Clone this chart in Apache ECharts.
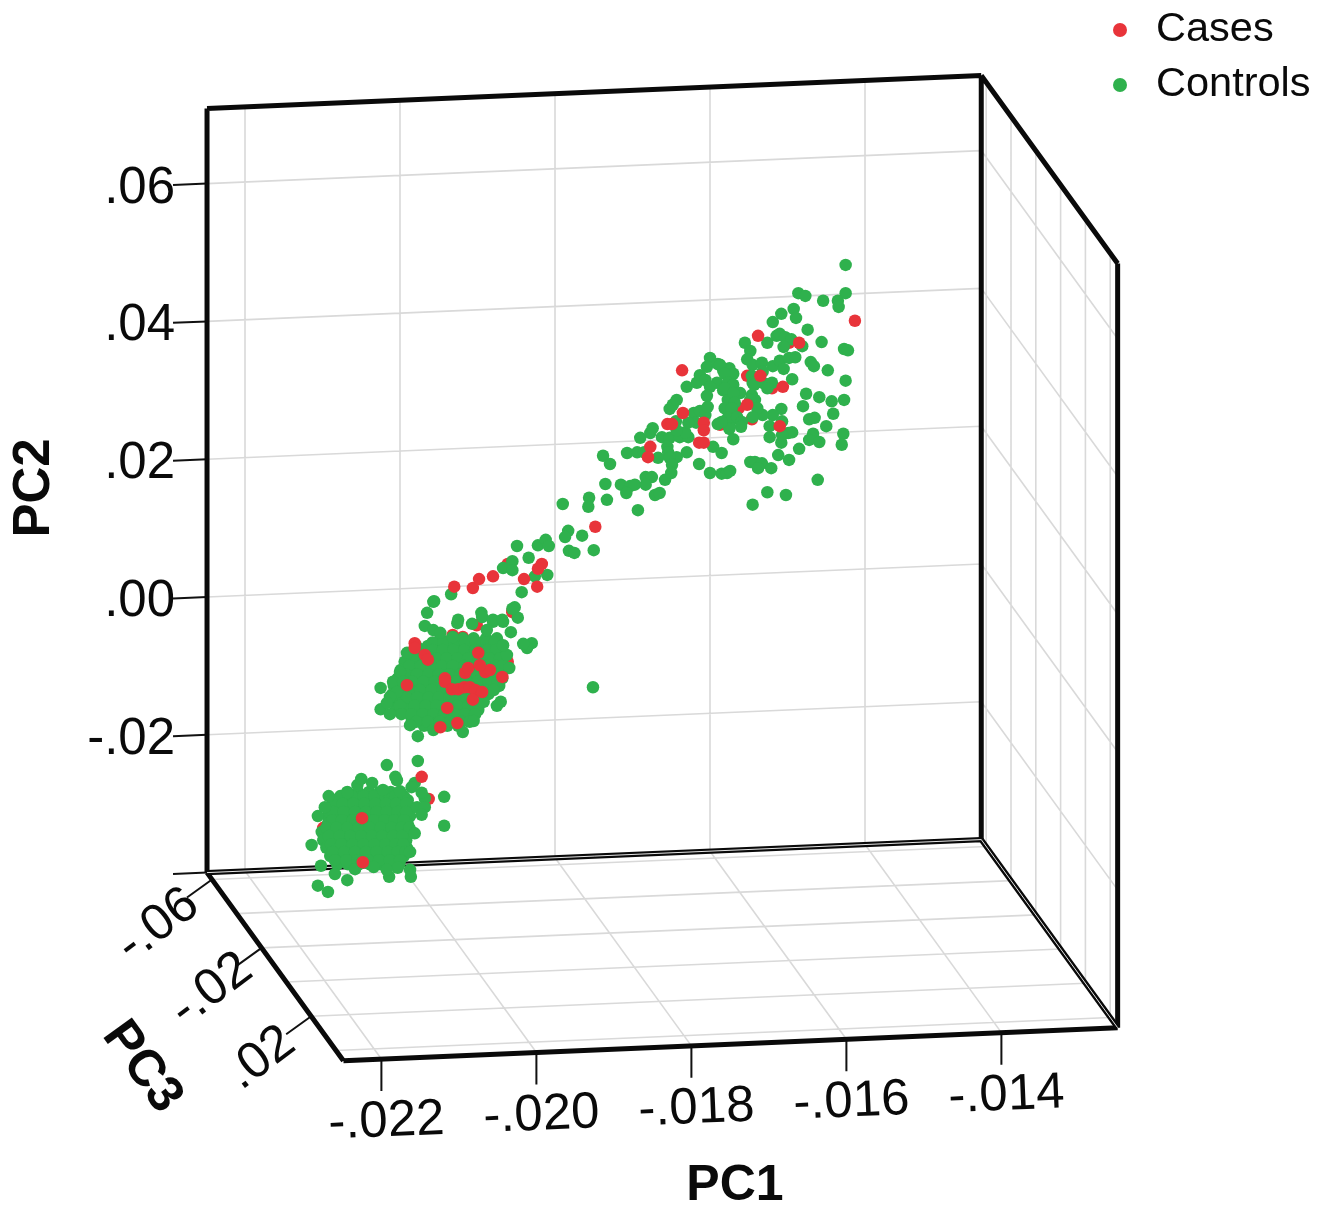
<!DOCTYPE html>
<html><head><meta charset="utf-8">
<script src="https://cdn.jsdelivr.net/npm/echarts@6/dist/echarts.min.js"></script>
<style>html,body{margin:0;padding:0;background:#fff}#c{width:1332px;height:1210px}</style>
</head><body><div id="c"></div>
<script>
// All values are in thousandths of the PC units, read against the PC1 back-wall grid and the PC2 ticks.
var pc1Ticks=[-22,-20,-18,-16,-14];
var pc1Labels=['-.022','-.020','-.018','-.016','-.014'];
var pc2Ticks=[60,40,20,0,-20];
var pc2Labels=['.06','.04','.02','.00','-.02'];
var pc3Ticks=[-60,-20,20];
var pc3Labels=['-.06','-.02','.02'];
var pc3Grid=[-60,-40,-20,0,20,40];

var controlsLower=[
[-20.68,-28.3],[-20.54,-28.3],[-20.40,-28.3],[-20.26,-28.3],[-20.12,-28.3],[-20.00,-28.3],
[-20.84,-29.5],[-20.71,-29.5],[-20.57,-29.5],[-20.43,-29.5],[-20.28,-29.5],[-20.14,-29.5],[-20.01,-29.5],[-19.90,-29.5],
[-20.90,-30.6],[-20.77,-30.6],[-20.63,-30.6],[-20.49,-30.6],[-20.36,-30.6],[-20.22,-30.6],[-20.08,-30.6],[-19.95,-30.6],[-19.86,-30.6],
[-20.93,-31.8],[-20.80,-31.8],[-20.67,-31.8],[-20.53,-31.8],[-20.39,-31.8],[-20.25,-31.8],[-20.12,-31.8],[-19.99,-31.8],[-19.87,-31.8],
[-20.93,-32.9],[-20.81,-32.9],[-20.68,-32.9],[-20.55,-32.9],[-20.41,-32.9],[-20.28,-32.9],[-20.14,-32.9],[-20.01,-32.9],[-19.90,-32.9],
[-21.01,-34.1],[-20.88,-34.1],[-20.75,-34.1],[-20.61,-34.1],[-20.46,-34.1],[-20.32,-34.1],[-20.18,-34.1],[-20.05,-34.1],[-19.92,-34.1],[-19.85,-34.1],
[-20.99,-35.3],[-20.85,-35.3],[-20.71,-35.3],[-20.57,-35.3],[-20.43,-35.3],[-20.28,-35.3],[-20.15,-35.3],[-20.03,-35.3],[-19.92,-35.3],
[-20.95,-36.4],[-20.83,-36.4],[-20.68,-36.4],[-20.54,-36.4],[-20.40,-36.4],[-20.26,-36.4],[-20.12,-36.4],[-20.00,-36.4],[-19.91,-36.4],
[-20.90,-37.6],[-20.76,-37.6],[-20.62,-37.6],[-20.48,-37.6],[-20.34,-37.6],[-20.19,-37.6],[-20.06,-37.6],[-19.95,-37.6],
[-20.81,-38.8],[-20.67,-38.8],[-20.53,-38.8],[-20.39,-38.8],[-20.25,-38.8],[-20.10,-38.8],[-20.01,-38.8],
[-20.77,-28.9],[-20.62,-28.9],[-20.47,-28.9],[-20.33,-28.9],[-20.19,-28.9],[-20.06,-28.9],[-19.95,-28.9],
[-20.87,-30.0],[-20.74,-30.0],[-20.60,-30.0],[-20.46,-30.0],[-20.32,-30.0],[-20.18,-30.0],[-20.05,-30.0],[-19.92,-30.0],
[-20.86,-31.2],[-20.73,-31.2],[-20.58,-31.2],[-20.44,-31.2],[-20.30,-31.2],[-20.17,-31.2],[-20.03,-31.2],[-19.92,-31.2],
[-20.87,-32.4],[-20.75,-32.4],[-20.61,-32.4],[-20.47,-32.4],[-20.34,-32.4],[-20.20,-32.4],[-20.07,-32.4],[-19.95,-32.4],
[-20.95,-33.5],[-20.82,-33.5],[-20.68,-33.5],[-20.53,-33.5],[-20.39,-33.5],[-20.25,-33.5],[-20.11,-33.5],[-19.98,-33.5],[-19.88,-33.5],
[-20.92,-34.7],[-20.78,-34.7],[-20.64,-34.7],[-20.50,-34.7],[-20.36,-34.7],[-20.23,-34.7],[-20.09,-34.7],[-19.97,-34.7],
[-20.89,-35.9],[-20.76,-35.9],[-20.61,-35.9],[-20.47,-35.9],[-20.33,-35.9],[-20.19,-35.9],[-20.06,-35.9],[-19.96,-35.9],
[-20.87,-37.0],[-20.72,-37.0],[-20.58,-37.0],[-20.44,-37.0],[-20.30,-37.0],[-20.16,-37.0],[-20.03,-37.0],[-19.93,-37.0],
[-20.84,-38.2],[-20.69,-38.2],[-20.55,-38.2],[-20.41,-38.2],[-20.27,-38.2],[-20.13,-38.2],[-20.00,-38.2],
[-20.17,-24.4],[-19.77,-23.8],[-20.06,-26.1],[-20.04,-26.6],[-19.81,-27.0],[-19.85,-27.6],[-19.43,-29.0],[-19.43,-33.2],
[-19.68,-29.2],[-19.72,-28.4],[-19.78,-30.5],[-19.68,-30.5],[-19.72,-31.6],[-19.81,-34.3],[-19.87,-37.0],[-19.87,-39.6],[-19.86,-40.6],
[-20.03,-39.3],[-20.14,-40.6],[-20.17,-39.6],[-20.34,-39.2],[-20.58,-39.5],[-20.68,-41.1],[-20.84,-40.2],[-21.02,-39.0],[-21.06,-41.9],
[-20.93,-42.8],[-21.14,-36.0],[-21.06,-31.8],[-20.97,-30.5],[-20.92,-28.9],[-20.68,-28.4],[-20.55,-27.3],[-20.50,-26.4],[-20.36,-27.0],[-20.22,-28.0],[-20.00,-28.2]
];
var controlsMiddle=[
[-19.48,-6.0],[-19.33,-6.0],[-19.19,-6.0],[-19.05,-6.0],[-18.89,-6.0],[-18.75,-6.0],
[-19.79,-7.1],[-19.64,-7.1],[-19.52,-7.1],[-19.38,-7.1],[-19.24,-7.1],[-19.10,-7.1],[-18.95,-7.1],[-18.81,-7.1],[-18.71,-7.1],
[-19.88,-8.3],[-19.74,-8.3],[-19.60,-8.3],[-19.47,-8.3],[-19.33,-8.3],[-19.19,-8.3],[-19.06,-8.3],[-18.92,-8.3],[-18.77,-8.3],[-18.65,-8.3],
[-19.94,-9.4],[-19.79,-9.4],[-19.66,-9.4],[-19.52,-9.4],[-19.39,-9.4],[-19.24,-9.4],[-19.10,-9.4],[-18.97,-9.4],[-18.83,-9.4],[-18.68,-9.4],
[-19.99,-10.6],[-19.85,-10.6],[-19.70,-10.6],[-19.56,-10.6],[-19.43,-10.6],[-19.29,-10.6],[-19.15,-10.6],[-19.02,-10.6],[-18.88,-10.6],[-18.74,-10.6],[-18.66,-10.6],
[-20.03,-11.8],[-19.90,-11.8],[-19.77,-11.8],[-19.61,-11.8],[-19.48,-11.8],[-19.34,-11.8],[-19.21,-11.8],[-19.06,-11.8],[-18.93,-11.8],[-18.79,-11.8],[-18.68,-11.8],
[-20.08,-12.9],[-19.94,-12.9],[-19.81,-12.9],[-19.66,-12.9],[-19.52,-12.9],[-19.38,-12.9],[-19.25,-12.9],[-19.10,-12.9],[-18.97,-12.9],[-18.83,-12.9],[-18.72,-12.9],
[-20.10,-14.1],[-19.97,-14.1],[-19.85,-14.1],[-19.70,-14.1],[-19.56,-14.1],[-19.43,-14.1],[-19.28,-14.1],[-19.15,-14.1],[-19.01,-14.1],[-18.86,-14.1],
[-20.10,-15.2],[-20.00,-15.2],[-19.87,-15.2],[-19.74,-15.2],[-19.60,-15.2],[-19.46,-15.2],[-19.32,-15.2],[-19.19,-15.2],[-19.05,-15.2],[-18.92,-15.2],
[-20.05,-16.4],[-19.91,-16.4],[-19.78,-16.4],[-19.64,-16.4],[-19.50,-16.4],[-19.35,-16.4],[-19.23,-16.4],[-19.10,-16.4],[-18.99,-16.4],
[-19.85,-17.6],[-19.72,-17.6],[-19.56,-17.6],[-19.42,-17.6],[-19.28,-17.6],[-19.15,-17.6],[-19.06,-17.6],
[-19.69,-18.7],[-19.54,-18.7],[-19.39,-18.7],[-19.25,-18.7],
[-19.58,-6.6],[-19.44,-6.6],[-19.30,-6.6],[-19.16,-6.6],[-19.02,-6.6],[-18.88,-6.6],[-18.78,-6.6],
[-19.72,-7.7],[-19.58,-7.7],[-19.45,-7.7],[-19.31,-7.7],[-19.17,-7.7],[-19.03,-7.7],[-18.88,-7.7],[-18.76,-7.7],
[-19.81,-8.9],[-19.67,-8.9],[-19.53,-8.9],[-19.40,-8.9],[-19.26,-8.9],[-19.12,-8.9],[-18.99,-8.9],[-18.85,-8.9],[-18.71,-8.9],
[-19.88,-10.0],[-19.73,-10.0],[-19.59,-10.0],[-19.46,-10.0],[-19.32,-10.0],[-19.17,-10.0],[-19.03,-10.0],[-18.90,-10.0],[-18.76,-10.0],[-18.68,-10.0],
[-19.92,-11.2],[-19.78,-11.2],[-19.63,-11.2],[-19.50,-11.2],[-19.36,-11.2],[-19.22,-11.2],[-19.08,-11.2],[-18.95,-11.2],[-18.81,-11.2],[-18.70,-11.2],
[-19.97,-12.3],[-19.84,-12.3],[-19.70,-12.3],[-19.55,-12.3],[-19.41,-12.3],[-19.28,-12.3],[-19.14,-12.3],[-19.00,-12.3],[-18.86,-12.3],[-18.74,-12.3],
[-20.01,-13.5],[-19.88,-13.5],[-19.74,-13.5],[-19.59,-13.5],[-19.45,-13.5],[-19.32,-13.5],[-19.17,-13.5],[-19.04,-13.5],[-18.90,-13.5],[-18.79,-13.5],
[-20.03,-14.6],[-19.91,-14.6],[-19.78,-14.6],[-19.63,-14.6],[-19.50,-14.6],[-19.36,-14.6],[-19.22,-14.6],[-19.08,-14.6],[-18.94,-14.6],
[-20.00,-15.8],[-19.81,-15.8],[-19.67,-15.8],[-19.53,-15.8],[-19.39,-15.8],[-19.26,-15.8],[-19.12,-15.8],[-18.99,-15.8],
[-19.98,-17.0],[-19.85,-17.0],[-19.71,-17.0],[-19.57,-17.0],[-19.43,-17.0],[-19.29,-17.0],[-19.16,-17.0],[-19.03,-17.0],
[-19.79,-18.1],[-19.64,-18.1],[-19.49,-18.1],[-19.35,-18.1],[-19.21,-18.1],[-19.10,-18.1],
[-19.57,-0.7],[-19.65,-2.3],[-19.68,-4.2],[-19.26,-3.8],[-18.95,-2.3],[-18.94,-2.9],[-18.52,-1.5],[-18.48,-3.0],[-18.57,-5.1],[-18.67,-3.6],
[-18.80,-3.6],[-19.07,-3.9],[-18.30,-6.7],[-18.36,-7.4],[-18.41,-6.8],[-19.57,-4.8],[-19.48,-5.2],[-19.91,-8.1],[-20.00,-10.9],[-20.09,-12.3],
[-19.96,-12.3],[-20.25,-13.2],[-20.25,-16.3],[-20.13,-17.0],[-20.04,-13.8],[-20.13,-14.5],[-20.17,-15.4],[-19.87,-18.6],[-19.77,-20.2],[-19.57,-19.3],
[-19.19,-19.6],[-19.05,-18.0],[-18.70,-15.2],[-18.75,-15.8],[-18.59,-10.3],[-18.62,-8.4],[-18.67,-7.0],[-18.88,-4.8],[-18.94,-15.2],[-19.32,-5.8],
[-19.25,-3.3],[-18.80,-3.3],[-18.68,-3.3],[-18.55,-1.7]
];
var controlsBridge=[
[-17.90,13.5],[-17.56,14.4],[-17.57,13.1],[-17.83,9.6],[-17.87,8.7],[-17.65,8.9],[-17.82,6.7],[-17.75,6.4],[-17.50,6.8],[-18.49,7.4],
[-18.22,7.5],[-18.12,8.3],[-18.08,7.4],[-18.34,5.7],[-18.55,5.2],[-18.67,4.2],[-18.55,3.9],[-18.26,3.0],[-18.10,3.2],[-18.43,0.7],
[-19.34,0.4],[-19.56,-0.6],[-17.51,-13.1],[-17.35,16.4],[-17.33,14.1]
];
var controlsUpper=[
[-17.38,20.5],[-17.29,19.3],[-17.07,20.9],[-16.94,21.0],[-16.85,21.0],[-16.67,20.2],[-17.15,16.3],[-17.03,16.1],[-16.97,16.3],[-17.08,15.1],
[-16.83,17.4],[-16.75,17.4],[-16.83,16.3],[-16.58,17.0],[-16.71,14.8],[-16.65,15.1],[-16.93,12.6],[-16.90,23.1],[-16.77,23.8],[-16.74,24.5],
[-16.62,23.2],[-16.52,23.1],[-16.39,23.2],[-16.28,23.2],[-16.32,23.9],[-16.43,24.2],[-16.55,21.8],[-16.54,21.0],[-16.30,21.0],[-16.43,20.3],
[-16.52,20.2],[-16.49,19.2],[-16.50,18.0],[-16.44,25.5],[-16.52,27.3],[-16.48,27.9],[-16.43,28.6],[-16.30,30.5],[-16.21,26.7],[-16.18,25.3],
[-16.28,25.3],[-16.13,27.0],[-16.06,26.4],[-16.03,27.6],[-16.17,31.1],[-16.13,32.2],[-16.06,31.5],[-16.00,34.7],[-16.04,33.4],[-15.90,33.8],
[-15.83,32.9],[-15.91,31.1],[-16.00,30.5],[-16.04,29.2],[-15.83,30.0],[-15.77,28.6],[-15.90,25.1],[-15.74,25.4],[-15.96,21.8],[-15.85,20.9],
[-16.14,19.3],[-16.00,18.0],[-15.85,17.9],[-15.78,18.0],[-15.74,18.3],
[-14.25,48.2],[-14.86,44.1],[-14.77,43.7],[-14.54,43.0],[-14.25,44.1],[-14.35,43.0],[-14.34,42.1],[-14.92,41.8],[-15.08,41.1],[-14.89,40.5],
[-15.19,39.9],[-14.74,38.8],[-15.14,37.9],[-15.10,38.2],[-15.03,37.7],[-14.95,37.4],[-14.81,36.4],[-15.05,36.3],[-15.26,36.9],[-15.55,36.9],
[-14.56,37.0],[-14.27,36.0],[-14.22,35.8],[-15.48,35.7],[-15.52,34.5],[-15.45,33.7],[-15.33,34.0],[-15.19,33.5],[-15.10,34.3],[-14.98,34.7],
[-14.90,34.8],[-14.70,34.1],[-14.66,33.5],[-15.05,33.1],[-14.48,32.9],[-15.75,33.2],[-15.87,33.7],[-15.70,32.4],[-15.81,32.4],[-15.46,32.1],
[-15.32,32.7],[-14.94,31.6],[-14.25,31.4],[-15.45,31.1],[-15.20,31.1],[-15.32,31.1],
[-15.43,30.8],[-15.23,30.9],[-15.26,30.3],[-14.76,29.5],[-14.59,29.0],[-14.43,28.4],[-14.27,28.6],[-14.80,27.7],[-14.41,26.6],[-14.72,25.8],
[-14.65,26.0],[-14.50,24.8],[-15.08,27.3],[-15.19,26.4],[-15.32,26.4],[-15.07,25.5],[-15.23,24.8],[-14.99,23.8],[-14.94,23.9],[-15.23,23.2],
[-15.08,22.4],[-15.07,23.5],[-14.67,23.7],[-14.72,22.8],[-14.59,22.5],[-14.28,23.7],[-14.30,22.1],[-14.85,21.5],[-15.12,20.6],[-14.98,19.9],
[-15.48,19.6],[-15.42,19.6],[-15.33,19.4],[-15.38,18.7],[-15.21,18.7],[-14.61,17.0],[-15.26,15.2],[-15.02,14.8],[-15.45,13.4],
[-15.77,31.1],[-15.70,30.8],[-15.81,30.3],[-15.61,29.6],[-15.46,29.3],[-15.70,29.6],[-15.42,28.6],[-15.48,28.6],[-15.68,28.2],[-15.81,27.4],
[-15.72,27.4],[-15.39,27.4],[-15.45,26.1],[-15.77,26.0],[-15.65,26.1],[-15.59,25.4],[-15.60,24.7],[-15.75,24.4],[-15.85,25.4],[-15.70,22.9]
];
// Cases hidden under the green dots
var casesBehind=[
[-14.98,36.9],[-15.52,32.1],[-15.20,30.3],[-15.63,27.4],[-15.46,25.8],[-15.78,25.0],[-15.87,25.0],[-18.61,4.8],[-18.55,-2.0],[-18.55,-2.2],
[-19.01,-4.1],[-19.32,-5.5],[-19.19,-5.8],[-19.03,-6.5],[-18.74,-7.0],[-19.10,-7.5],[-18.61,-9.4],[-20.99,-33.5],[-19.63,-29.3]
];
// Cases lying on top of the green dots
var casesFront=[
[-14.13,40.1],[-15.38,37.9],[-14.85,36.9],[-15.35,32.1],[-15.06,30.5],[-15.52,27.9],[-15.10,24.8],[-16.36,32.9],[-16.35,26.7],[-16.55,25.1],
[-16.49,25.1],[-16.08,25.3],[-16.08,24.2],[-16.14,22.4],[-16.08,22.4],[-16.77,21.8],[-16.80,20.3],
[-17.48,10.2],[-19.30,1.5],[-19.06,1.3],[-18.98,2.6],[-18.80,3.0],[-18.40,2.6],[-18.23,1.5],[-18.17,4.8],[-18.22,4.1],
[-19.81,-6.7],[-19.81,-7.4],[-19.68,-8.4],[-19.64,-9.1],[-18.99,-8.1],[-19.42,-11.8],[-19.42,-12.3],[-19.16,-11.0],[-19.12,-10.3],[-18.90,-10.9],
[-18.84,-10.6],[-18.68,-11.6],[-19.33,-13.4],[-19.25,-13.4],[-19.17,-13.1],[-19.10,-13.1],[-19.03,-13.5],[-18.94,-13.8],[-19.39,-16.1],[-19.48,-18.9],
[-19.26,-18.3],[-19.06,-14.9],[-18.97,-9.9],[-19.91,-12.8],
[-20.49,-32.1],[-20.48,-38.5],[-19.72,-26.1]
];

// Box limits on the three PC axes (thousandths)
var P1A=-22.49,P1B=-12.5,P2A=-40,P2B=70.9,P3A=-64,P3B=46;
var PX1=77.5,PX2=6.89,W=1332,H=1210;
var xMin=-22-245/PX1,yMax=597/PX2;
// Oblique projection of the box onto the picture plane, in axis units
function project(a,b,c){
  var dz=c-P3A;
  return [a+dz*1.24/PX1, b+(a-P1A)*3.304/PX2-dz*1.71/PX2];
}
function seg(out,p,q){out.push(p,q,['-','-']);}
var grid=[],frame=[],dbl=[],ticks=[];
pc1Ticks.forEach(function(v){
  seg(grid,project(v,P2A,P3A),project(v,P2B,P3A));
  seg(grid,project(v,P2A,P3A),project(v,P2A,P3B));
  var e=project(v,P2A,P3B);
  seg(ticks,e,[e[0],e[1]-32/PX2]);
});
pc2Ticks.forEach(function(v){
  seg(grid,project(P1A,v,P3A),project(P1B,v,P3A));
  seg(grid,project(P1B,v,P3A),project(P1B,v,P3B));
});
pc3Grid.forEach(function(v){
  seg(grid,project(P1A,P2A,v),project(P1B,P2A,v));
  seg(grid,project(P1B,P2A,v),project(P1B,P2B,v));
});
pc2Ticks.concat([P2A]).forEach(function(v){
  seg(ticks,project(P1A-34/PX1,v,P3A),project(P1A,v,P3A));
});
pc3Ticks.forEach(function(v){
  var e=project(P1A,P2A,v);
  seg(ticks,e,[e[0]-25/PX1,e[1]-18/PX2]);
});
seg(frame,project(P1A,P2B,P3A),project(P1B,P2B,P3A));
seg(frame,project(P1A,P2A,P3A),project(P1A,P2B,P3A));
seg(frame,project(P1B,P2A,P3A),project(P1B,P2B,P3A));
seg(frame,project(P1B,P2B,P3A),project(P1B,P2B,P3B));
seg(frame,project(P1B,P2B,P3B),project(P1B,P2A,P3B));
seg(frame,project(P1A,P2A,P3A),project(P1A,P2A,P3B));
seg(frame,project(P1A,P2A,P3B),project(P1B,P2A,P3B));
seg(dbl,project(P1A,P2A,P3A),project(P1B,P2A,P3A));
seg(dbl,project(P1B,P2A,P3A),project(P1B,P2A,P3B));

function lineS(data,color,width,z){
  return {type:'line',data:data,symbol:'none',silent:true,z:z,clip:false,connectNulls:false,
    lineStyle:{color:color,width:width,cap:'butt',join:'round'},animation:false};
}
var FONT='"Liberation Sans", Arial, sans-serif';
function labelS(items,rotate,size,weight,align){
  return {type:'scatter',symbolSize:0.01,silent:true,z:6,clip:false,animation:false,itemStyle:{opacity:1},
    data:items.map(function(t){return {value:t.p,name:t.s};}),
    label:{show:true,position:'inside',formatter:'{b}',rotate:rotate,fontFamily:FONT,fontSize:size,fontWeight:weight,color:'#0a0a0a',align:align,verticalAlign:'middle'}};
}
function off(p,dx,dy){return [p[0]+dx/PX1,p[1]-dy/PX2];}
var xLab=pc1Ticks.map(function(v,i){return {p:off(project(v,P2A,P3B),5,63),s:pc1Labels[i]};});
var yLab=pc2Ticks.map(function(v,i){return {p:off(project(P1A,v,P3A),-32,5),s:pc2Labels[i]};});
var zLab=pc3Ticks.map(function(v,i){var e=project(P1A,P2A,v);return {p:off(e,i==0?-54:-50,i==0?46:42),s:pc3Labels[i]};});

var GREEN='#2fb14d',RED='#e8343a',DOT=12.5;
var option={
  animation:false,backgroundColor:'#fff',
  grid:{left:0,right:0,top:0,bottom:0},
  xAxis:{type:'value',min:xMin,max:xMin+W/PX1,show:false},
  yAxis:{type:'value',min:yMax-H/PX2,max:yMax,show:false},
  legend:{data:['Cases','Controls'],orient:'vertical',left:1108,top:4,itemWidth:14,itemHeight:14,itemGap:13,icon:'circle',selectedMode:false,
    textStyle:{fontFamily:FONT,fontSize:41.5,color:'#0a0a0a',padding:[0,0,0,24]}},
  series:[
    lineS(grid,'#d9d9d9',1.6,1),
    lineS(ticks,'#111',2,2),
    lineS(frame,'#0a0a0a',5,3),
    lineS(dbl,'#0a0a0a',5.4,3),
    lineS(dbl,'#e6e6e6',1,3),
    {name:'Cases',type:'scatter',symbolSize:DOT,z:4,itemStyle:{color:RED,opacity:1},data:casesBehind,animation:false,large:false},
    {name:'Controls',type:'scatter',symbolSize:DOT,z:4,itemStyle:{color:GREEN,opacity:1},data:controlsLower.concat(controlsMiddle,controlsBridge,controlsUpper),animation:false,large:false},
    {name:'Cases',type:'scatter',symbolSize:DOT,z:5,itemStyle:{color:RED,opacity:1},data:casesFront,animation:false,large:false},
    labelS(xLab,2.4,51,'normal','center'),
    labelS(yLab,0,51,'normal','right'),
    labelS(zLab,37,51,'normal','center'),
    labelS([{p:off([xMin,yMax],735,1186),s:'PC1'}],0,50,'bold','center'),
    labelS([{p:off([xMin,yMax],35,488),s:'PC2'}],90,51,'bold','center'),
    labelS([{p:off([xMin,yMax],142,1067),s:'PC3'}],-54,51,'bold','center')
  ]
};
echarts.init(document.getElementById('c'),null,{renderer:'canvas'}).setOption(option);
</script></body></html>
